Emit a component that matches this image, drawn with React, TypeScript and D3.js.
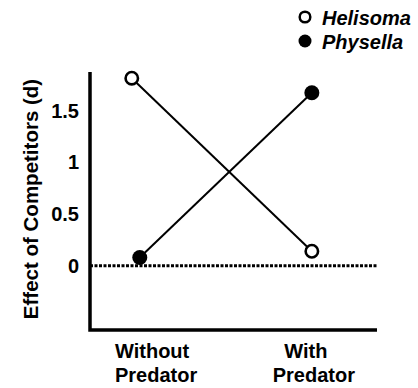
import React from "react";
import * as d3 from "d3";

const categories = [
  ["Without", "Predator"],
  ["With", "Predator"],
];
const categoryPos = [0, 1];
const helisoma = [1.81, 0.14];
const physella = [0.08, 1.67];
const yTicks = [0, 0.5, 1, 1.5];

const width = 418;
const height = 388;
const font = "'Liberation Sans', Arial, Helvetica, sans-serif";

const xScale = d3.scaleLinear().domain([-0.26, 1.37]).range([90, 377]);
const yScale = d3.scaleLinear().domain([-0.62, 1.87]).range([330, 72]);

// small sideways shift so the two series don't sit on top of each other
const dodge = { helisoma: [-4, 0], physella: [4, 0] };

const line = d3
  .line<[number, number]>()
  .x((d) => d[0])
  .y((d) => d[1]);

const pts = (values: number[], shift: number[]): [number, number][] =>
  values.map((v, i) => [xScale(categoryPos[i]) + shift[i], yScale(v)]);

const App = () => {
  let hPts = pts(helisoma, dodge.helisoma);
  let pPts = pts(physella, dodge.physella);
  let x0 = xScale.range()[0];
  let x1 = xScale.range()[1];
  let yTop = yScale.range()[1];
  let yBot = yScale.range()[0];

  return (
    <svg
      width={width}
      height={height}
      style={{ position: "absolute", left: 0, top: 0, background: "#fff" }}
      fontFamily={font}
      fontWeight="bold"
    >
      {/* zero reference */}
      <line
        x1={x0}
        x2={x1}
        y1={yScale(0)}
        y2={yScale(0)}
        stroke="#000"
        strokeWidth={3}
        strokeDasharray="3,1.5"
      />

      {/* axes */}
      <path
        d={`M${x0},${yTop}V${yBot}H${x1}`}
        fill="none"
        stroke="#000"
        strokeWidth={3.5}
      />

      {yTicks.map((t) => (
        <text
          key={t}
          x={x0 - 11}
          y={yScale(t)}
          dy="0.36em"
          textAnchor="end"
          fontSize={20}
        >
          {t}
        </text>
      ))}

      <text
        transform={`translate(38, ${(yTop + yBot) / 2 - 2}) rotate(-90)`}
        textAnchor="middle"
        fontSize={20.5}
      >
        Effect of Competitors (d)
      </text>

      {/* category labels */}
      <text x={115} fontSize={20}>
        <tspan x={115} y={358}>{categories[0][0]}</tspan>
        <tspan x={115} y={382}>{categories[0][1]}</tspan>
      </text>
      <text textAnchor="middle" fontSize={20}>
        <tspan x={xScale(categoryPos[1]) - 6} y={358}>{categories[1][0]}</tspan>
        <tspan x={xScale(categoryPos[1]) + 2} y={382}>{categories[1][1]}</tspan>
      </text>

      {/* series */}
      <path d={line(hPts) || ""} fill="none" stroke="#000" strokeWidth={2} />
      <path d={line(pPts) || ""} fill="none" stroke="#000" strokeWidth={2} />

      {hPts.map((p, i) => (
        <circle
          key={"h" + i}
          cx={p[0]}
          cy={p[1]}
          r={6.2}
          fill="#fff"
          stroke="#000"
          strokeWidth={2.6}
        />
      ))}
      {pPts.map((p, i) => (
        <circle key={"p" + i} cx={p[0]} cy={p[1]} r={7.5} fill="#000" />
      ))}

      {/* legend */}
      <circle cx={305} cy={17} r={5.3} fill="#fff" stroke="#000" strokeWidth={2.5} />
      <text x={322} y={25} fontSize={20} fontStyle="italic">
        Helisoma
      </text>
      <circle cx={305} cy={41} r={6.5} fill="#000" />
      <text x={322} y={49} fontSize={20} fontStyle="italic">
        Physella
      </text>
    </svg>
  );
};

export default App;
